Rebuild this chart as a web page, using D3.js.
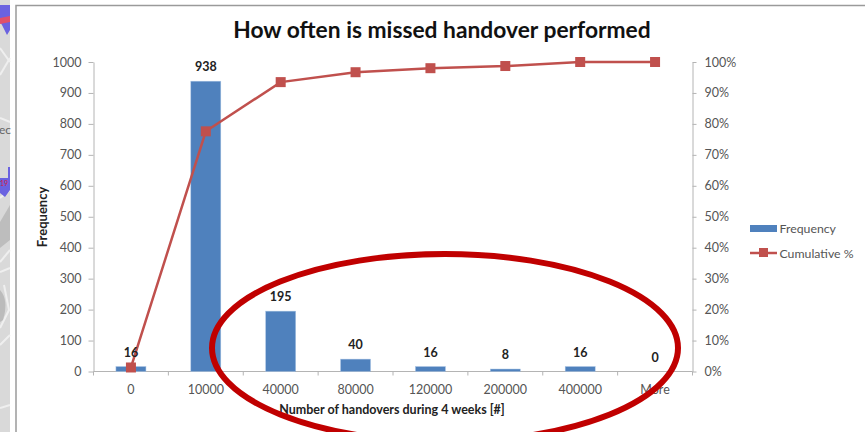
<!DOCTYPE html>
<html>
<head>
<meta charset="utf-8">
<style>
html,body{margin:0;padding:0;background:#fff;overflow:hidden}
svg{display:block}
text{font-family:Lato,"Open Sans",sans-serif}
</style>
<script src="https://cdn.jsdelivr.net/npm/d3@7"></script>
</head>
<body>
<svg id="chart" width="865" height="432"></svg>
<script>
const categories = ["0","10000","40000","80000","120000","200000","400000","More"];
const frequency = [16,938,195,40,16,8,16,0];
const cumulativePct = [1.3,77.6,93.5,96.7,98.0,98.7,100,100];
const freqTicks = [0,100,200,300,400,500,600,700,800,900,1000];
const pctTicks = [0,10,20,30,40,50,60,70,80,90,100];
const chartTitle = "How often is missed handover performed";
const xTitle = "Number of handovers during 4 weeks [#]";
const yTitle = "Frequency";
const legendNames = ["Frequency","Cumulative %"];

const BLUE="#4f81bd", RED="#c0504d", AXIS="#b4b4b4", LABEL="#555", DARK="#222", RING="#c00000";
const svg=d3.select("#chart");

// Street-map sliver along the left edge of the slide
const strip=svg.append("g");
strip.append("rect").attr("width",10).attr("height",432).attr("fill","#d9d9d9");
const roads=[
  [[0,75],[10,58]],[[0,48],[10,62]],[[0,118],[10,122]],[[0,198],[10,190]],
  [[0,262],[10,250]],[[0,272],[10,268]],[[4,285],[9,310],[0,328]],[[0,345],[10,335]],[[0,408],[10,405]]
];
strip.selectAll("path.road").data(roads).join("path").attr("class","road")
  .attr("d",d3.line()).attr("fill","none").attr("stroke","#efefef").attr("stroke-width",2);
strip.append("path").attr("d","M0,222L10,205L10,240L0,248Z").attr("fill","#bdbdbd");
strip.append("path").attr("d","M0,290Q9,300 3,320L0,322Z").attr("fill","#bbbbbb");
strip.append("path").attr("d","M0,5L10,5L10,30L7,35L2,25L0,22Z").attr("fill","#6a62e0");
strip.append("path").attr("d","M0,18L10,16L10,22L0,24Z").attr("fill","#e0506a");
strip.append("path").attr("d","M8,167L10,167L10,190L5,197L0,193L0,178L8,178Z").attr("fill","#6a62e0");
strip.append("text").attr("x",-1).attr("y",134).attr("font-size",12).attr("fill","#666").text("ec");
strip.append("text").attr("x",0).attr("y",186).attr("font-size",7).attr("fill","#d02040").text("19");

// Chart area border
svg.append("path").attr("d","M16,432V5.5H865").attr("fill","none").attr("stroke","#9a9a9a").attr("stroke-width",1.5);

const x=d3.scaleBand().domain(categories).range([93.5,692.5]);
const yF=d3.scaleLinear().domain([0,1000]).range([371.5,62]);
const yP=d3.scaleLinear().domain([0,100]).range([371.5,62]);

function styleAxis(g){
  g.select(".domain").attr("stroke",AXIS).attr("stroke-width",1);
  g.selectAll(".tick line").attr("stroke",AXIS);
  g.selectAll(".tick text").attr("fill",LABEL).attr("font-size",12.5);
}
svg.append("g").attr("transform","translate(93.5,0)")
  .call(d3.axisLeft(yF).tickValues(freqTicks).tickFormat(d3.format("d")).tickSize(5).tickPadding(7).tickSizeOuter(0)).call(styleAxis);
svg.append("g").attr("transform","translate(692.5,0)")
  .call(d3.axisRight(yP).tickValues(pctTicks).tickFormat(d=>d+"%").tickSize(4).tickPadding(8).tickSizeOuter(0)).call(styleAxis);

// Category axis with ticks on the band boundaries
const xAxisG=svg.append("g").attr("transform","translate(0,371.5)")
  .call(d3.axisBottom(x).tickSize(0).tickPadding(14)).call(styleAxis);
xAxisG.select(".domain").attr("d","M93.5,0H692.5");
xAxisG.selectAll("line.bound").data(d3.range(categories.length+1)).join("line").attr("class","bound")
  .attr("x1",i=>93.5+i*x.bandwidth()).attr("x2",i=>93.5+i*x.bandwidth())
  .attr("y1",0).attr("y2",4).attr("stroke",AXIS);

const barW=30;
svg.append("g").selectAll("rect").data(frequency).join("rect")
  .attr("x",(d,i)=>x(categories[i])+x.bandwidth()/2-barW/2)
  .attr("width",barW)
  .attr("y",d=>yF(d))
  .attr("height",d=>yF(0)-yF(d))
  .attr("fill",BLUE).attr("stroke","#a9c4e4").attr("stroke-width",0.5);

const px=(d,i)=>x(categories[i])+x.bandwidth()/2;
const lineGen=d3.line().x(px).y(d=>yP(d));
svg.append("path").datum(cumulativePct).attr("d",lineGen).attr("fill","none").attr("stroke",RED).attr("stroke-width",2.5);
svg.append("g").selectAll("rect").data(cumulativePct).join("rect")
  .attr("x",(d,i)=>px(d,i)-5).attr("y",d=>yP(d)-5).attr("width",10).attr("height",10).attr("fill",RED);

svg.append("g").selectAll("text").data(frequency).join("text")
  .attr("x",px).attr("y",d=>yF(d)-10)
  .attr("text-anchor","middle").attr("font-size",12.5).attr("font-weight",700).attr("fill",DARK)
  .text(d=>d);

svg.append("text").attr("x",442).attr("y",38).attr("text-anchor","middle")
  .attr("font-size",22.8).attr("font-weight",700).attr("fill","#111").text(chartTitle);
svg.append("text").attr("x",392).attr("y",414).attr("text-anchor","middle")
  .attr("font-size",12.5).attr("font-weight",700).attr("fill",DARK).text(xTitle);
svg.append("text").attr("transform","translate(47,217) rotate(-90)").attr("text-anchor","middle")
  .attr("font-size",13).attr("font-weight",700).attr("fill",DARK).text(yTitle);

// Legend
const lg=svg.append("g");
lg.append("rect").attr("x",750).attr("y",225).attr("width",27).attr("height",7).attr("fill",BLUE);
lg.append("line").attr("x1",750).attr("x2",777).attr("y1",253).attr("y2",253).attr("stroke",RED).attr("stroke-width",2.5);
lg.append("rect").attr("x",759).attr("y",248).attr("width",9).attr("height",9).attr("fill",RED);
lg.selectAll("text").data(legendNames).join("text")
  .attr("x",779.5).attr("y",(d,i)=>233+i*24.5)
  .attr("font-size",12.3).attr("fill",LABEL).text(d=>d);

// Hand-drawn emphasis ring around the long tail
svg.append("ellipse").attr("cx",445).attr("cy",348).attr("rx",233).attr("ry",94)
  .attr("fill","none").attr("stroke",RING).attr("stroke-width",6);
</script>
</body>
</html>
